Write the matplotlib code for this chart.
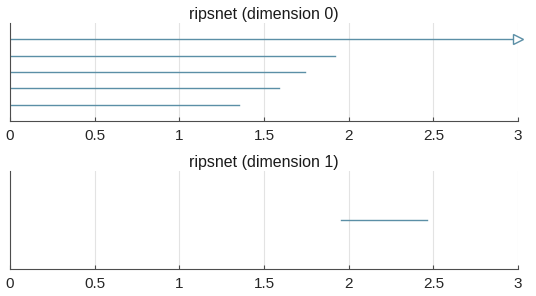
import numpy as np
import matplotlib.pyplot as plt

# barcode data: (birth, death), death = inf means persists
dim0_birth = [0.0, 0.0, 0.0, 0.0, 0.0]
dim0_death = [1.351, 1.591, 1.742, 1.921, np.inf]
dim1_birth = [1.955]
dim1_death = [2.463]

titles = ['ripsnet (dimension 0)', 'ripsnet (dimension 1)']
x_max = 3
xticks = [0, 0.5, 1, 1.5, 2, 2.5, 3]
xticklabels = ['0', '0.5', '1', '1.5', '2', '2.5', '3']

bar_color = '#5b8fa6'
axis_color = '#4d4d4d'

plt.rcParams['font.family'] = ['Liberation Sans', 'DejaVu Sans']

fig = plt.figure(figsize=(5.36, 2.96), dpi=100)
ax0 = fig.add_axes([0.0187, 0.5912, 0.9478, 0.331])
ax1 = fig.add_axes([0.0187, 0.0922, 0.9478, 0.331])


def barcode(ax, births, deaths, title):
    n = len(births)
    for i, (b, d) in enumerate(zip(births, deaths)):
        y = i + 1
        if np.isinf(d):
            ax.plot([b, x_max], [y, y], color=bar_color, lw=1.0)
            ax.plot([x_max], [y], marker='>', ms=7.5, mfc='white',
                    mec=bar_color, mew=1.0, clip_on=False)
        else:
            ax.plot([b, d], [y, y], color=bar_color, lw=1.0)
    ax.set_xlim(0, x_max)
    ax.set_ylim(0, n + 1)
    ax.set_xticks(xticks)
    ax.set_xticklabels(xticklabels)
    ax.set_yticks([])
    ax.grid(axis='x', color='#e3e3e3', lw=0.8)
    ax.set_axisbelow(True)
    for s in ['top', 'right']:
        ax.spines[s].set_visible(False)
    for s in ['left', 'bottom']:
        ax.spines[s].set_color(axis_color)
        ax.spines[s].set_linewidth(0.8)
    ax.tick_params(axis='x', direction='in', length=3, color=axis_color,
                   labelsize=11, pad=6, labelcolor='#262626')
    ax.set_title(title, fontsize=11.5, color='#1a1a1a', pad=3)


# dim 0 bars plotted bottom-up, shortest at bottom
barcode(ax0, dim0_birth, dim0_death, titles[0])
barcode(ax1, dim1_birth, dim1_death, titles[1])

fig.savefig('out.png', dpi=100)
